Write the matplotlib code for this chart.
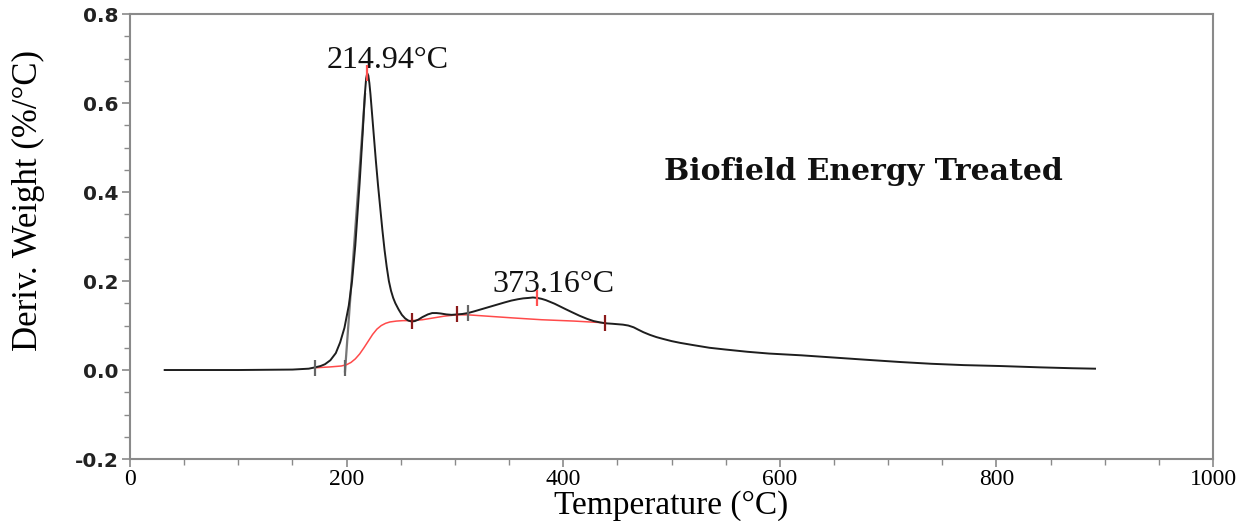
import matplotlib
matplotlib.use("Agg")
import matplotlib.pyplot as plt
from matplotlib.ticker import MultipleLocator

# ---- data ----
temp = [32, 100, 150, 165, 171, 176, 180, 185, 190, 194, 198, 202, 205, 208, 210, 212,
        214, 215, 216, 217, 218, 219, 220, 221, 222, 223, 225, 227, 229, 231, 233, 235,
        237, 239, 241, 243, 245, 248, 251, 254, 257, 260, 263, 266, 270, 275, 279, 283,
        287, 292, 297, 302, 307, 312, 318, 325, 332, 339, 346, 352, 358, 363, 368, 372,
        376, 380, 384, 388, 392, 397, 402, 408, 415, 422, 428, 434, 439, 445, 450, 455,
        460, 465, 469, 474, 480, 486, 492, 500, 508, 520, 535, 550, 570, 590, 620, 650,
        680, 711, 740, 770, 803, 840, 870, 891]
deriv = [0.0, 0.0, 0.001, 0.003, 0.006, 0.009, 0.013, 0.022, 0.038, 0.062, 0.095, 0.145,
         0.2, 0.28, 0.35, 0.42, 0.5, 0.54, 0.585, 0.625, 0.655, 0.667, 0.662, 0.645,
         0.62, 0.59, 0.53, 0.47, 0.415, 0.365, 0.315, 0.27, 0.232, 0.2, 0.178, 0.162,
         0.15, 0.136, 0.124, 0.116, 0.111, 0.109, 0.11, 0.113, 0.119, 0.125, 0.128,
         0.128, 0.127, 0.125, 0.124, 0.125, 0.126, 0.128, 0.132, 0.137, 0.142, 0.147,
         0.152, 0.156, 0.159, 0.161, 0.162, 0.163, 0.162, 0.16, 0.157, 0.153, 0.149,
         0.143, 0.137, 0.13, 0.122, 0.115, 0.11, 0.107, 0.105, 0.104, 0.103, 0.102,
         0.1, 0.096, 0.091, 0.085, 0.079, 0.074, 0.07, 0.065, 0.061, 0.056, 0.05, 0.046,
         0.041, 0.037, 0.033, 0.028, 0.023, 0.018, 0.014, 0.011, 0.009, 0.006, 0.004,
         0.003]

base_temp = [171, 185, 195, 200, 204, 208, 212, 216, 220, 224, 228, 232, 236, 240, 246,
             252, 260, 270, 280, 290, 302, 312, 330, 354, 380, 410, 439]
base_deriv = [0.005, 0.007, 0.009, 0.012, 0.017, 0.025, 0.036, 0.05, 0.065, 0.08, 0.092,
              0.1, 0.105, 0.108, 0.11, 0.111, 0.111, 0.113, 0.117, 0.121, 0.124, 0.124,
              0.121, 0.117, 0.113, 0.11, 0.106]

# onset tangent on the left flank of the main peak
tangent_temp = [198.5, 217]
tangent_deriv = [-0.003, 0.62]

# small vertical marks on the curves
mark_temp = [171, 198.5, 260, 302, 312, 376, 439, 219]
mark_deriv = [0.005, 0.005, 0.11, 0.125, 0.128, 0.162, 0.106, 0.667]
mark_color = ["#666666", "#666666", "#8b1a1a", "#8b1a1a", "#666666", "#ff5050",
              "#8b1a1a", "#ff5050"]

peak_labels = ["214.94°C", "373.16°C"]
peak_label_pos = [(238, 0.679), (391, 0.175)]

SERIF = ["Liberation Serif", "DejaVu Serif"]
AXIS_GREY = "#8a8a8a"

fig = plt.figure(figsize=(12.55, 5.21), dpi=100)
ax = fig.add_axes([0.1036, 0.119, 0.863, 0.854])

ax.plot(tangent_temp, tangent_deriv, color="#777777", linewidth=1.6, zorder=2)
ax.plot(base_temp, base_deriv, color="#ff4a4a", linewidth=1.1, zorder=3)
ax.plot(temp, deriv, color="#1e1e1e", linewidth=1.4, zorder=4)
for t, v, c in zip(mark_temp, mark_deriv, mark_color):
    ax.plot([t], [v], marker="|", markersize=12, markeredgewidth=1.6, color=c, zorder=5)

for txt, (tx, ty) in zip(peak_labels, peak_label_pos):
    ax.text(tx, ty, txt, family=SERIF, fontsize=23, ha="center", va="baseline",
            color="#111111")

ax.text(677, 0.428, "Biofield Energy Treated", family=["DejaVu Serif"], fontsize=21.5,
        fontweight="bold", ha="center", va="baseline", color="#111111")

ax.set_xlim(0, 1000)
ax.set_ylim(-0.2, 0.8)
ax.xaxis.set_major_locator(MultipleLocator(200))
ax.xaxis.set_minor_locator(MultipleLocator(50))
ax.yaxis.set_major_locator(MultipleLocator(0.2))
ax.yaxis.set_minor_locator(MultipleLocator(0.05))
ax.yaxis.set_major_formatter(plt.FuncFormatter(lambda v, _: f"{v:.1f}"))

for spine in ax.spines.values():
    spine.set_color(AXIS_GREY)
    spine.set_linewidth(1.5)
ax.tick_params(which="major", direction="out", length=6, width=1.2, color=AXIS_GREY)
ax.tick_params(which="minor", direction="out", length=4, width=1.0, color=AXIS_GREY)

for lab in ax.get_xticklabels():
    lab.set_family(SERIF)
    lab.set_fontsize(17)
for lab in ax.get_yticklabels():
    lab.set_family("DejaVu Sans")
    lab.set_fontsize(14.5)
    lab.set_fontweight("bold")
    lab.set_color("#222222")
ax.tick_params(axis="x", pad=1)
ax.tick_params(axis="y", pad=2)

ax.set_xlabel("Temperature (°C)", family=SERIF, fontsize=24, va="baseline")
ax.xaxis.set_label_coords(0.5, -0.122)
ax.set_ylabel("Deriv. Weight (%/°C)", family=SERIF, fontsize=25, va="center")
ax.yaxis.set_label_coords(-0.094, 0.582)

fig.savefig("out.png", dpi=100, facecolor="white")
